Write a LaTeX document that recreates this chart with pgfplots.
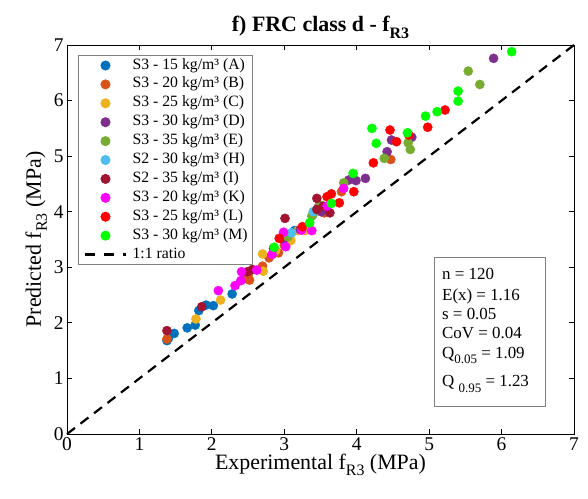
\documentclass[border=0pt]{standalone}
\usepackage{fontspec}
\setmainfont{Liberation Serif}
\usepackage{pgfplots}
\pgfplotsset{compat=1.18}
\definecolor{cA}{RGB}{0,114,189}
\definecolor{cB}{RGB}{217,83,25}
\definecolor{cC}{RGB}{237,177,32}
\definecolor{cD}{RGB}{126,47,142}
\definecolor{cE}{RGB}{119,172,48}
\definecolor{cH}{RGB}{77,190,238}
\definecolor{cI}{RGB}{162,20,47}
\definecolor{cK}{RGB}{255,0,255}
\definecolor{cL}{RGB}{255,0,0}
\definecolor{cM}{RGB}{0,255,0}
\newcommand{\lsub}[3]{\raisebox{-#2}{\fontsize{#1}{#1}\selectfont #3}}
\pgfplotsset{
  pts/.style={only marks, mark=*, mark size=4.6bp, mark options={draw=#1, fill=#1}, color=#1,
    legend image code/.code={\path[draw=none, fill=none] (0bp,0bp) -- (41bp,0bp);\draw[mark options] plot[mark=*, mark size=4.6bp] coordinates {(21bp,0bp)};}},
}
\begin{document}
\begin{tikzpicture}
\useasboundingbox (-67bp,-65bp) rectangle (521bp,434bp);
\begin{axis}[
  at={(0,0)}, anchor=south west,
  scale only axis, width=507bp, height=389bp,
  xmin=0, xmax=7, ymin=0, ymax=7,
  xtick={0,1,2,3,4,5,6,7}, ytick={0,1,2,3,4,5,6,7},
  tick align=inside, xtick pos=both, ytick pos=both,
  major tick length=5bp,
  axis line style={line width=0.8bp},
  every tick/.style={black, line width=0.8bp},
  /pgf/number format/assume math mode=true,
  ticklabel style={font=\fontsize{19.5}{20}\selectfont},
  title={\textbf{f) FRC class d - f\lsub{16}{7bp}{R3}}},
  title style={font=\fontsize{22}{24}\selectfont, yshift=-3bp},
  xlabel={Experimental f\lsub{16}{6bp}{R3} (MPa)},
  ylabel={Predicted f\lsub{16}{6bp}{R3} (MPa)},
  label style={font=\fontsize{22}{24}\selectfont},
  xlabel style={yshift=3bp},
  ylabel style={yshift=0bp},
  legend cell align=left,
  legend style={at={(0.0217,0.974)}, anchor=north west, draw=gray, line width=0.8bp, fill=white,
    font=\fontsize{15.8}{16}\selectfont, row sep=2.9bp, column sep=6bp, inner xsep=5bp, inner ysep=2bp,
    nodes={inner sep=0pt, text height=11.5bp, text depth=4.5bp}},
  clip=false,
]
\addplot[pts=cA] coordinates {(1.38,1.68) (1.48,1.81) (1.66,1.91) (1.77,1.96) (1.82,2.22) (1.92,2.32) (2.02,2.31) (2.28,2.52) (3.14,3.66) (2.45,2.80) (1.40,1.72)};
\addlegendentry{S3 - 15 kg/m³ (A)}
\addplot[pts=cB] coordinates {(1.38,1.71) (2.52,2.77) (2.50,2.86) (2.70,3.02) (2.79,3.17) (2.92,3.26) (3.00,3.40) (3.79,4.36) (4.47,4.94) (3.55,3.98)};
\addlegendentry{S3 - 20 kg/m³ (B)}
\addplot[pts=cC] coordinates {(1.78,2.07) (2.12,2.41) (2.71,2.93) (2.70,3.24) (3.07,3.57) (3.09,3.48) (3.19,3.66) (3.29,3.66) (2.88,3.30)};
\addlegendentry{S3 - 25 kg/m³ (C)}
\addplot[pts=cD] coordinates {(2.85,3.34) (2.99,3.50) (3.22,3.68) (3.47,4.08) (3.51,4.00) (3.89,4.57) (3.99,4.56) (4.12,4.60) (4.42,5.08) (4.48,5.29) (4.76,5.34) (5.89,6.76)};
\addlegendentry{S3 - 30 kg/m³ (D)}
\addplot[pts=cE] coordinates {(3.38,3.92) (3.40,3.96) (3.49,4.12) (3.82,4.52) (4.38,4.96) (4.71,5.24) (4.74,5.12) (5.54,6.53) (5.70,6.29) (3.05,3.55)};
\addlegendentry{S3 - 35 kg/m³ (E)}
\addplot[pts=cH] coordinates {(3.10,3.62) (3.40,4.00)};
\addlegendentry{S2 - 30 kg/m³ (H)}
\addplot[pts=cI] coordinates {(1.38,1.86) (1.86,2.29) (2.49,2.92) (3.01,3.88) (3.45,4.04) (3.45,4.24) (3.54,4.10) (3.63,3.98) (2.56,2.96)};
\addlegendentry{S2 - 35 kg/m³ (I)}
\addplot[pts=cK] coordinates {(2.09,2.58) (2.32,2.67) (2.40,2.76) (2.41,2.92) (2.62,2.95) (2.83,3.23) (3.02,3.37) (2.99,3.63) (3.24,3.67) (3.38,3.66) (3.59,4.10) (3.82,4.42)};
\addlegendentry{S3 - 20 kg/m³ (K)}
\addplot[pts=cL] coordinates {(2.93,3.52) (3.25,3.73) (3.59,4.27) (3.65,4.32) (3.76,4.16) (3.96,4.36) (4.23,4.88) (4.46,5.47) (4.55,5.26) (4.72,5.38) (4.98,5.52) (5.22,5.83)};
\addlegendentry{S3 - 25 kg/m³ (L)}
\addplot[pts=cM] coordinates {(2.86,3.36) (3.35,3.80) (3.65,4.15) (3.95,4.69) (4.21,5.50) (4.27,5.23) (4.70,5.42) (4.95,5.72) (5.11,5.80) (5.40,6.17) (5.40,5.99) (6.14,6.88)};
\addlegendentry{S3 - 30 kg/m³ (M)}
\addplot[black, line width=2.2bp, dash pattern=on 10bp off 7bp,
  legend image code/.code={\draw[black, line width=2.2bp, dash pattern=on 10bp off 9bp] (0bp,0bp) -- (41bp,0bp);}]
  coordinates {(0,0) (7,7)};
\addlegendentry{1:1 ratio}
\draw[gray, line width=0.8bp, fill=white] (axis cs:5.07,0.50) rectangle (axis cs:6.61,3.18);
\begin{scope}[every node/.style={anchor=base west, inner sep=0pt, font=\fontsize{17}{18}\selectfont}]
\node at (axis cs:5.177,2.789) {n = 120};
\node at (axis cs:5.177,2.411) {E(x) = 1.16};
\node at (axis cs:5.177,2.069) {s = 0.05};
\node at (axis cs:5.177,1.710) {CoV = 0.04};
\node at (axis cs:5.177,1.350) {Q\lsub{13}{5bp}{0.05} = 1.09};
\node at (axis cs:5.177,0.846) {Q \lsub{13}{6bp}{0.95} = 1.23};
\end{scope}
\end{axis}
\end{tikzpicture}
\end{document}
